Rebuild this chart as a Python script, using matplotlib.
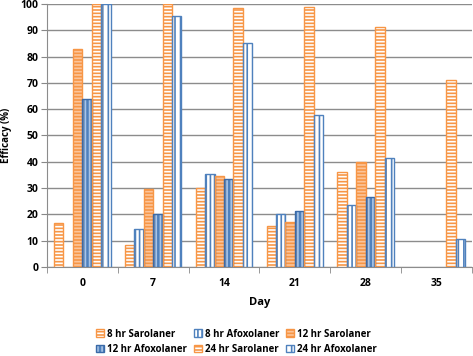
import numpy as np
import matplotlib
matplotlib.use('Agg')
import matplotlib.pyplot as plt
from matplotlib.patches import Rectangle

# Data
days = ['0', '7', '14', '21', '28', '35']
series = ['8 hr Sarolaner', '8 hr Afoxolaner', '12 hr Sarolaner',
          '12 hr Afoxolaner', '24 hr Sarolaner', '24 hr Afoxolaner']
sar_8 = [16.8, 8.5, 30.0, 15.4, 36.1, 0]
afo_8 = [0, 14.3, 35.5, 20.1, 23.5, 0]
sar_12 = [83.0, 29.8, 34.6, 17.0, 39.9, 0]
afo_12 = [64.0, 20.2, 33.4, 21.4, 26.7, 0]
sar_24 = [100.0, 99.8, 98.4, 98.7, 91.4, 71.0]
afo_24 = [100.0, 95.3, 85.0, 57.7, 41.5, 10.8]

orange = '#F79646'
blue = '#4F81BD'
dark_blue = '#3A6AA8'

# face, hatch colour, hatch pattern, outline
styles = [
    ('white', orange, '-----', orange),
    ('white', blue, '||||', blue),
    (orange, '#FBC49A', '-----', orange),
    (blue, '#A9C4E6', '||||', dark_blue),
    (orange, 'white', '-----', orange),
    ('white', blue, '|||', blue),
]
values = [sar_8, afo_8, sar_12, afo_12, sar_24, afo_24]

plt.rcParams['font.family'] = ['Open Sans', 'DejaVu Sans']
plt.rcParams['hatch.linewidth'] = 1.2

fig = plt.figure(figsize=(4.73, 3.56), dpi=100)
ax = fig.add_axes([0.099, 0.25, 0.899, 0.739])

x = np.arange(len(days))
w = 1 / 7.5
handles = []
for j, (vals, (face, hcol, hatch, edge)) in enumerate(zip(values, styles)):
    pos = x + (j - 2.5) * w
    v = np.array(vals)
    keep = v > 0
    ax.bar(pos[keep], v[keep], w, color=face, edgecolor=hcol, hatch=hatch, linewidth=0, zorder=3)
    ax.bar(pos[keep], v[keep], w, fill=False, edgecolor=edge, linewidth=1.0, zorder=4)
    h1 = Rectangle((0, 0), 1, 1, facecolor=face, edgecolor=hcol, hatch=hatch, linewidth=0)
    h2 = Rectangle((0, 0), 1, 1, fill=False, edgecolor=edge, linewidth=1.0)
    handles.append((h1, h2))

ax.set_xlim(-0.5, len(days) - 0.5)
ax.set_ylim(0, 100)
ax.set_yticks(range(0, 101, 10))
ax.set_xticks(x)
ax.set_xticklabels(days, fontweight='bold')
ax.set_yticklabels([str(t) for t in range(0, 101, 10)], fontweight='bold')
ax.set_xticks(np.arange(-0.5, len(days), 1), minor=True)
ax.tick_params(axis='x', which='major', length=0, pad=8, labelsize=7.5)
ax.tick_params(axis='x', which='minor', length=4, color='#888888')
ax.tick_params(axis='y', length=4, color='#888888', labelsize=7.5, pad=2)

ax.yaxis.grid(True, color='#8C8C8C', linewidth=1.0, zorder=0)
ax.set_axisbelow(True)
for s in ['top', 'right']:
    ax.spines[s].set_visible(False)
for s in ['left', 'bottom']:
    ax.spines[s].set_color('#8C8C8C')

ax.set_xlabel('Day', fontsize=8, fontweight='bold', labelpad=6)
ax.set_ylabel('Efficacy (%)', fontsize=7, fontweight='bold', labelpad=6)

# legend order in the reference: row-wise, three per row
order = [0, 3, 1, 4, 2, 5]
fig.legend([handles[i] for i in order], [series[i] for i in order],
           loc='center', bbox_to_anchor=(0.5, 0.04), ncol=3, frameon=False,
           prop={'size': 7, 'weight': 'bold'}, handlelength=0.8, handleheight=0.8,
           handletextpad=0.3, columnspacing=0.7, labelspacing=0.45)

fig.savefig('out.png', dpi=100)
